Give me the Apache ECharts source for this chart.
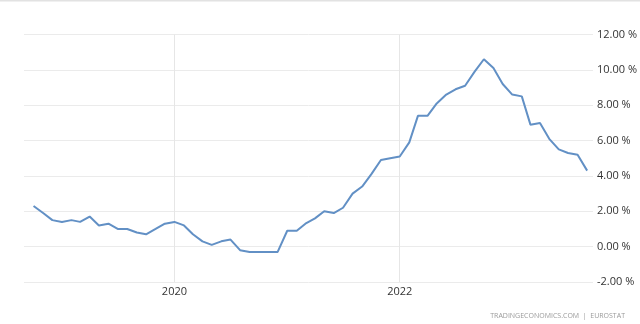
<!DOCTYPE html>
<html>
<head>
<meta charset="utf-8">
<script src="https://cdn.jsdelivr.net/npm/echarts@6/dist/echarts.min.js"></script>
<style>
html,body{margin:0;padding:0;background:#fff;}
#c{width:640px;height:324px;}
</style>
</head>
<body>
<div id="c"></div>
<script>
// Months (first day of month) from Oct 2018 to Sep 2023
var months = [
  '2018-10','2018-11','2018-12',
  '2019-01','2019-02','2019-03','2019-04','2019-05','2019-06','2019-07','2019-08','2019-09','2019-10','2019-11','2019-12',
  '2020-01','2020-02','2020-03','2020-04','2020-05','2020-06','2020-07','2020-08','2020-09','2020-10','2020-11','2020-12',
  '2021-01','2021-02','2021-03','2021-04','2021-05','2021-06','2021-07','2021-08','2021-09','2021-10','2021-11','2021-12',
  '2022-01','2022-02','2022-03','2022-04','2022-05','2022-06','2022-07','2022-08','2022-09','2022-10','2022-11','2022-12',
  '2023-01','2023-02','2023-03','2023-04','2023-05','2023-06','2023-07','2023-08','2023-09'
];
var inflation = [
  2.3, 1.9, 1.5,
  1.4, 1.5, 1.4, 1.7, 1.2, 1.3, 1.0, 1.0, 0.8, 0.7, 1.0, 1.3,
  1.4, 1.2, 0.7, 0.3, 0.1, 0.3, 0.4, -0.2, -0.3, -0.3, -0.3, -0.3,
  0.9, 0.9, 1.3, 1.6, 2.0, 1.9, 2.2, 3.0, 3.4, 4.1, 4.9, 5.0,
  5.1, 5.9, 7.4, 7.4, 8.1, 8.6, 8.9, 9.1, 9.9, 10.6, 10.1, 9.2,
  8.6, 8.5, 6.9, 7.0, 6.1, 5.5, 5.3, 5.2, 4.3
];
var xTicks = ['2020-01-01', '2022-01-01'];
var xTickLabels = ['2020', '2022'];
var yMin = -2, yMax = 12, yStep = 2;
var sourceText = 'TRADINGECONOMICS.COM  |  EUROSTAT';

function ms(s) { return new Date(s + 'T00:00:00Z').getTime(); }
var seriesData = months.map(function (m, i) { return [ms(m + '-01'), inflation[i]]; });
var tickTimes = xTicks.map(ms);

var chart = echarts.init(document.getElementById('c'), null, {renderer: 'canvas'});
chart.setOption({
  animation: false,
  backgroundColor: '#fff',
  grid: {left: 24, right: 45, top: 34.5, bottom: 42, containLabel: false},
  xAxis: {
    type: 'value',
    min: ms('2018-08-31'),
    max: ms('2023-09-20'),
    axisLine: {show: false},
    axisTick: {show: false},
    splitLine: {show: false},
    axisLabel: {show: false}
  },
  yAxis: {
    type: 'value',
    position: 'right',
    min: yMin, max: yMax, interval: yStep,
    axisLine: {show: false},
    axisTick: {show: false},
    axisLabel: {
      formatter: function (v) { return v.toFixed(2) + ' %'; },
      color: '#333',
      fontFamily: 'Open Sans',
      fontSize: 11,
      margin: 4
    },
    splitLine: {lineStyle: {color: '#ebebeb', width: 1}}
  },
  series: [{
    type: 'line',
    data: seriesData,
    showSymbol: false,
    lineStyle: {color: '#6290c5', width: 2},
    itemStyle: {color: '#6290c5'},
    z: 3,
    markLine: {
      silent: true,
      symbol: ['none', 'none'],
      lineStyle: {color: '#e6e6e6', width: 1, type: 'solid'},
      label: {
        show: true,
        position: 'start',
        distance: 4,
        color: '#333',
        fontFamily: 'Open Sans',
        fontSize: 11
      },
      data: tickTimes.map(function (t, i) {
        return {xAxis: t, label: {formatter: xTickLabels[i]}};
      }),
      z: 1
    }
  }],
  graphic: [
    {type: 'rect', shape: {x: 0, y: 0, width: 640, height: 1.5}, style: {fill: '#e2e2e2'}},
    {type: 'text', right: 15, top: 312,
     style: {text: sourceText, fill: '#9a9a9a', fontFamily: 'Open Sans', fontSize: 7}}
  ]
});
</script>
</body>
</html>
